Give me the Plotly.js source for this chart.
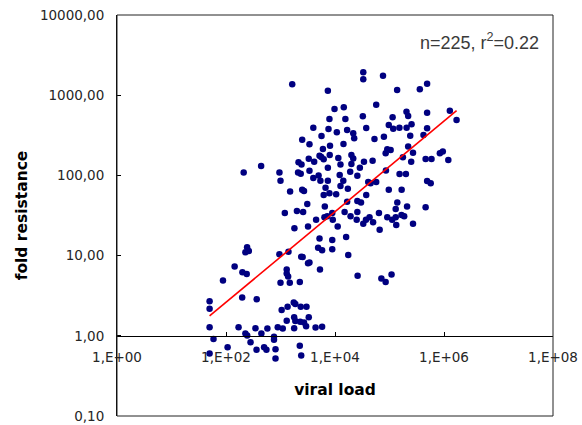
<!DOCTYPE html>
<html>
<head>
<meta charset="utf-8">
<script src="https://cdn.plot.ly/plotly-3.0.1.min.js"></script>
<style>html,body{margin:0;padding:0;background:#fff}#chart{width:582px;height:425px}</style>
</head>
<body>
<div id="chart"></div>
<script>
// Data
const viralLoad = [
  1640, 7400, 7900, 4000, 7600, 5650, 2500, 3400, 8100, 6000,
  2140, 2430, 3300, 5200, 5600, 6200, 4150, 7400, 441, 211,
  956, 1000, 2100, 2350, 3400, 4000, 5000, 5400, 7400, 1500,
  2500, 2700, 6700, 6200, 3100, 6500, 1200, 2000, 2600,
  6400, 7200, 4500, 3200, 1800, 5200, 5800, 4900, 955, 1400,
  2400, 2550, 3200, 3400, 5300, 244, 262, 227, 144, 200,
  240, 88, 1300, 1300, 1380, 1000, 1480, 2260, 198, 366,
  50, 50, 50, 59, 107, 170, 227, 245, 282, 347,
  446, 575, 500, 552, 363, 760, 760, 810, 810, 890,
  1100, 1050, 1350, 1750, 1870, 2350, 3000, 1300, 1780, 1870,
  2300, 2700, 3300, 2950, 1780, 4400, 5800, 2260, 2400, 50,
  3.3e4, 3.3e4, 7.6e4, 1.38e5, 3.6e5, 4.9e5, 5.7e4, 9.8e3, 1.45e4, 1.28e6,
  1.7e6, 1.55e4, 3.24e4, 1.14e5, 2.05e5, 2.2e5, 1.08e4, 1.67e4, 2.16e4, 3.74e4,
  9.7e4, 1.17e5, 1.52e5, 2.06e5, 2.54e5, 4.9e5, 2.25e4, 5.3e4, 7.9e4, 2.4e5,
  4.2e5, 1.43e4, 9.1e4, 1.05e5, 2.2e5, 8.5e4, 2.7e5, 8.4e5, 9.5e5, 1.76e5,
  1.2e6, 4.6e5, 5.9e5, 2.5e5, 2.0e4, 2.16e4, 1.15e4, 8000, 3.4e4, 4.9e4,
  1.26e4, 2.0e4, 2.86e4, 1.9e4, 1.22e4, 2.57e4, 8.6e4, 1.53e5, 2.0e5, 4.9e5,
  5.7e5, 1.42e4, 1.26e4, 1.72e4, 4.07e4, 4.5e4, 5.7e4, 9.7e4, 1.67e5, 3.74e4,
  1.05e4, 7900, 1.67e4, 2.57e4, 3.0e4, 1.39e5, 2.1e5, 1.3e5, 4.6e5, 1.5e4,
  2.57e4, 6.4e4, 8900, 4.9e5,
  1.93e4, 2.5e4, 3.3e4, 3.7e4, 4.3e4, 5.0e4, 9.1e4, 1.12e5, 1.3e5, 1.66e5,
  1.86e5, 1.33e5, 2.7e5, 6.6e4, 1.12e4, 9100, 8900, 8900, 1.6e4, 1.75e4,
  2.6e4, 7.1e4, 8.5e4, 1.09e5
];
const foldResistance = [
  1370, 1140, 505, 393, 379, 310, 279, 244, 235, 213,
  146, 137, 161, 176, 170, 159, 148, 125, 131, 109,
  109, 86, 109, 105, 114, 93, 100, 86, 86, 63,
  66, 64, 70, 57, 44, 41, 34, 36, 35,
  30, 31, 28, 23, 22, 16.3, 11.7, 12.5, 10.4, 11.2,
  9.7, 9.6, 8.0, 8.2, 6.7, 12.7, 11.4, 11, 7.3, 6.2,
  5.9, 4.9, 6.7, 6.0, 5.5, 4.6, 4.6, 4.7, 3.0, 2.85,
  2.7, 2.18, 1.28, 0.91, 0.72, 1.28, 1.07, 1.01, 0.83, 1.24,
  1.07, 1.23, 0.72, 0.67, 0.67, 0.97, 0.89, 0.68, 0.52, 1.28,
  1.23, 2.1, 2.3, 2.6, 2.5, 2.3, 2.3, 1.54, 1.7, 1.53,
  1.5, 1.46, 1.7, 1.32, 1.24, 1.27, 1.3, 0.75, 0.57, 0.6,
  1930, 1580, 1750, 1160, 1190, 1390, 762, 673, 706, 641,
  490, 505, 546, 530, 622, 550, 344, 368, 335, 390,
  425, 382, 393, 393, 434, 387, 290, 284, 304, 313,
  319, 246, 212, 207, 230, 189, 192, 189, 198, 168,
  156, 160, 160, 148, 180, 163, 165, 180, 148, 152,
  137, 139, 125, 111, 101, 99, 115, 104, 104, 85,
  80, 86, 74, 68, 83, 80, 83, 66, 66, 57,
  58, 60, 47, 48, 46, 46, 41, 38, 40, 35,
  35, 34, 34, 603,
  31, 28, 25, 28, 30, 26, 30, 28, 30, 32,
  31, 24, 25, 21, 23, 28, 15.7, 12, 17, 10.2,
  5.6, 5.2, 4.7, 5.8
];
// Regression line end points
const fitX = [50, 1.7e6];
const fitY = [1.77, 640];
// Tick labels
const xTickVals = [1, 1e2, 1e4, 1e6, 1e8];
const xTickText = ['1,E+00', '1,E+02', '1,E+04', '1,E+06', '1,E+08'];
const yTickVals = [0.1, 1, 10, 100, 1000, 10000];
const yTickText = ['0,10', '1,00', '10,00', '100,00', '1000,00', '10000,00'];
const statsText = 'n=225, r<sup>2</sup>=0.22';

const yRange = [-1, 4];
const tickFont = {family: 'DejaVu Sans, Verdana, sans-serif', size: 13.5, color: '#262626'};

const traces = [
  {x: viralLoad, y: foldResistance, type: 'scatter', mode: 'markers',
   marker: {color: '#000080', size: 6.5}, hoverinfo: 'x+y', showlegend: false},
  {x: fitX, y: fitY, type: 'scatter', mode: 'lines',
   line: {color: '#ff0000', width: 1.6}, showlegend: false}
];

const layout = {
  width: 582, height: 425,
  margin: {l: 117, r: 29, t: 15, b: 9},
  paper_bgcolor: '#ffffff', plot_bgcolor: '#ffffff',
  showlegend: false,
  xaxis: {
    type: 'log', range: [0, 8], anchor: 'free',
    position: (0 - yRange[0]) / (yRange[1] - yRange[0]),
    tickmode: 'array', tickvals: xTickVals, ticktext: xTickText,
    ticks: 'inside', ticklen: 4, tickcolor: '#000', tickwidth: 1,
    showline: true, linecolor: '#000', linewidth: 1,
    showgrid: false, zeroline: false,
    tickfont: tickFont, ticklabelstandoff: 9,
    title: {text: '<b>viral load</b>', standoff: 20,
            font: {family: 'DejaVu Sans, Verdana, sans-serif', size: 15.5, color: '#000'}}
  },
  yaxis: {
    type: 'log', range: yRange,
    tickmode: 'array', tickvals: yTickVals, ticktext: yTickText,
    ticks: 'inside', ticklen: 4, tickcolor: '#000', tickwidth: 1,
    showline: true, linecolor: '#000', linewidth: 1,
    showgrid: false, zeroline: false,
    tickfont: tickFont, ticklabelstandoff: 9,
    title: {text: '<b>fold resistance</b>', standoff: 8,
            font: {family: 'DejaVu Sans, Verdana, sans-serif', size: 15.5, color: '#000'}}
  },
  shapes: [
    {type: 'rect', xref: 'paper', yref: 'paper', x0: 0, x1: 1, y0: 0, y1: 1,
     line: {color: '#222', width: 1}}
  ],
  annotations: [
    {xref: 'paper', yref: 'paper', x: 0.972, y: 0.933, xanchor: 'right', yanchor: 'middle',
     text: statsText, showarrow: false,
     font: {family: 'Liberation Sans, Arial, sans-serif', size: 18, color: '#3a3a3a'}}
  ]
};

Plotly.newPlot('chart', traces, layout, {displayModeBar: false, staticPlot: true});
</script>
</body>
</html>
